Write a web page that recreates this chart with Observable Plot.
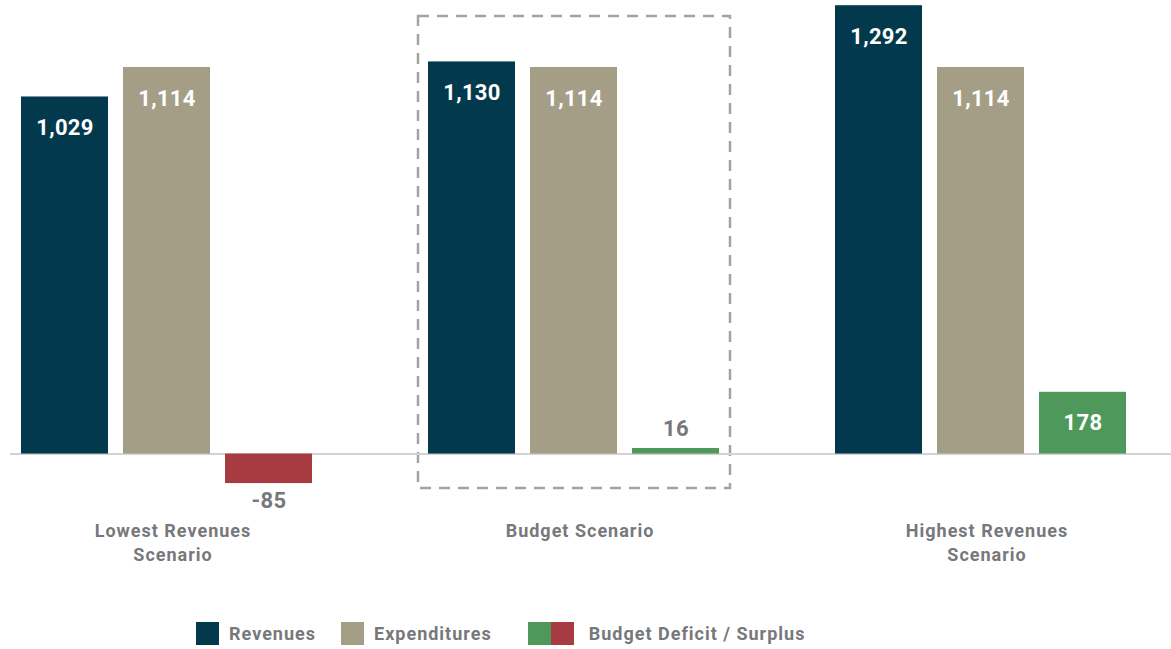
<!DOCTYPE html>
<html>
<head>
<meta charset="utf-8">
<script src="https://cdn.jsdelivr.net/npm/d3@7"></script>
<script src="https://cdn.jsdelivr.net/npm/@observablehq/plot@0.6"></script>
<style>
  html, body { margin: 0; padding: 0; background: #fff; overflow: hidden; }
  #wrap { position: relative; width: 1171px; height: 649px; font-family: Roboto, "DejaVu Sans", sans-serif; }
  #chart svg { overflow: hidden; display: block; }
  #chart g[font-size="18"] text { letter-spacing: 1px; }
  #chart g[font-size="22"] text { letter-spacing: 0.3px; }
  #legend { position: absolute; left: 196px; top: 622px; display: flex; align-items: center; font-size: 18px; font-weight: bold; color: #76787b; letter-spacing: 1px; }
  .sw { width: 23px; height: 23px; display: inline-block; }
  .item { display: flex; align-items: center; }
  .item span.t { margin-left: 10px; }
</style>
</head>
<body>
<div id="wrap">
  <div id="chart"></div>
  <div id="legend"></div>
</div>
<script>
const scenarios = ["Lowest Revenues Scenario", "Budget Scenario", "Highest Revenues Scenario"];
const scenarioLabels = ["Lowest Revenues\nScenario", "Budget Scenario", "Highest Revenues\nScenario"];
const series = ["Revenues", "Expenditures", "Budget Deficit / Surplus"];
const revenues = [1029, 1130, 1292];
const expenditures = [1114, 1114, 1114];
const balance = [-85, 16, 178];
const highlighted = ["Budget Scenario"];

const COLORS = {Revenues: "#03394c", Expenditures: "#a59e87"};
const GREEN = "#4f985b", RED = "#a63c41", GREY = "#76787b";

const data = [];
scenarios.forEach((s, i) => {
  data.push({scenario: s, series: series[0], value: revenues[i]});
  data.push({scenario: s, series: series[1], value: expenditures[i]});
  data.push({scenario: s, series: series[2], value: balance[i]});
});
const fill = d => COLORS[d.series] ?? (d.value < 0 ? RED : GREEN);
const fmt = d3.formatLocale({decimal: ".", thousands: ",", grouping: [3], currency: ["", ""], minus: "-"}).format(",");
const font = {fontFamily: "Roboto, 'DejaVu Sans', sans-serif", fontWeight: "bold"};

const chart = Plot.plot({
  width: 1171,
  height: 580,
  marginTop: 0,
  marginBottom: 90,
  marginLeft: 19,
  marginRight: 43,
  style: {fontFamily: "Roboto, 'DejaVu Sans', sans-serif", background: "white"},
  fx: {domain: scenarios, paddingInner: 0.281, paddingOuter: 0, axis: null, label: null},
  x: {domain: series, paddingInner: 0.148, paddingOuter: 0, axis: null, label: null},
  y: {domain: [-105, 1307], axis: null, label: null},
  marks: [
    Plot.rect(highlighted, {fx: d => d, stroke: "#a3a3a3", strokeWidth: 2.5, strokeDasharray: "11,8", fill: "none",
      insetLeft: -9, insetRight: -10, insetTop: 16, insetBottom: 2}),
    Plot.ruleY([0], {stroke: "#d3d3d3", strokeWidth: 2, insetLeft: -10, insetRight: -115}),
    Plot.barY(data, {fx: "scenario", x: "series", y: "value", fill}),
    Plot.text(data.filter(d => Math.abs(d.value) >= 100), {fx: "scenario", x: "series", y: "value",
      text: d => fmt(d.value), dy: 31, fill: "white", fontSize: 22, ...font}),
    Plot.text(data.filter(d => d.value >= 0 && d.value < 100), {fx: "scenario", x: "series", y: "value",
      text: d => fmt(d.value), dy: -20, fill: GREY, fontSize: 22, ...font}),
    Plot.text(data.filter(d => d.value < 0 && d.value > -100), {fx: "scenario", x: "series", y: "value",
      text: d => fmt(d.value), dy: 17, fill: GREY, fontSize: 22, ...font}),
    Plot.text(scenarios, {fx: d => d, frameAnchor: "bottom", text: (d, i) => scenarioLabels[i],
      dy: 29.5, dx: 6, lineAnchor: "top", lineHeight: 1.33, fill: GREY, fontSize: 18, ...font})
  ]
});
document.getElementById("chart").appendChild(chart);

const legendItems = [
  {label: series[0], colors: [COLORS.Revenues], gap: 25},
  {label: series[1], colors: [COLORS.Expenditures], gap: 36},
  {label: series[2], colors: [GREEN, RED], gap: 0}
];
const legend = document.getElementById("legend");
legendItems.forEach(it => {
  const el = document.createElement("div");
  el.className = "item";
  el.style.marginRight = it.gap + "px";
  it.colors.forEach(c => {
    const s = document.createElement("span");
    s.className = "sw";
    s.style.background = c;
    el.appendChild(s);
  });
  const t = document.createElement("span");
  t.className = "t";
  if (it.colors.length > 1) t.style.marginLeft = "15px";
  t.textContent = it.label;
  el.appendChild(t);
  legend.appendChild(el);
});
</script>
</body>
</html>
